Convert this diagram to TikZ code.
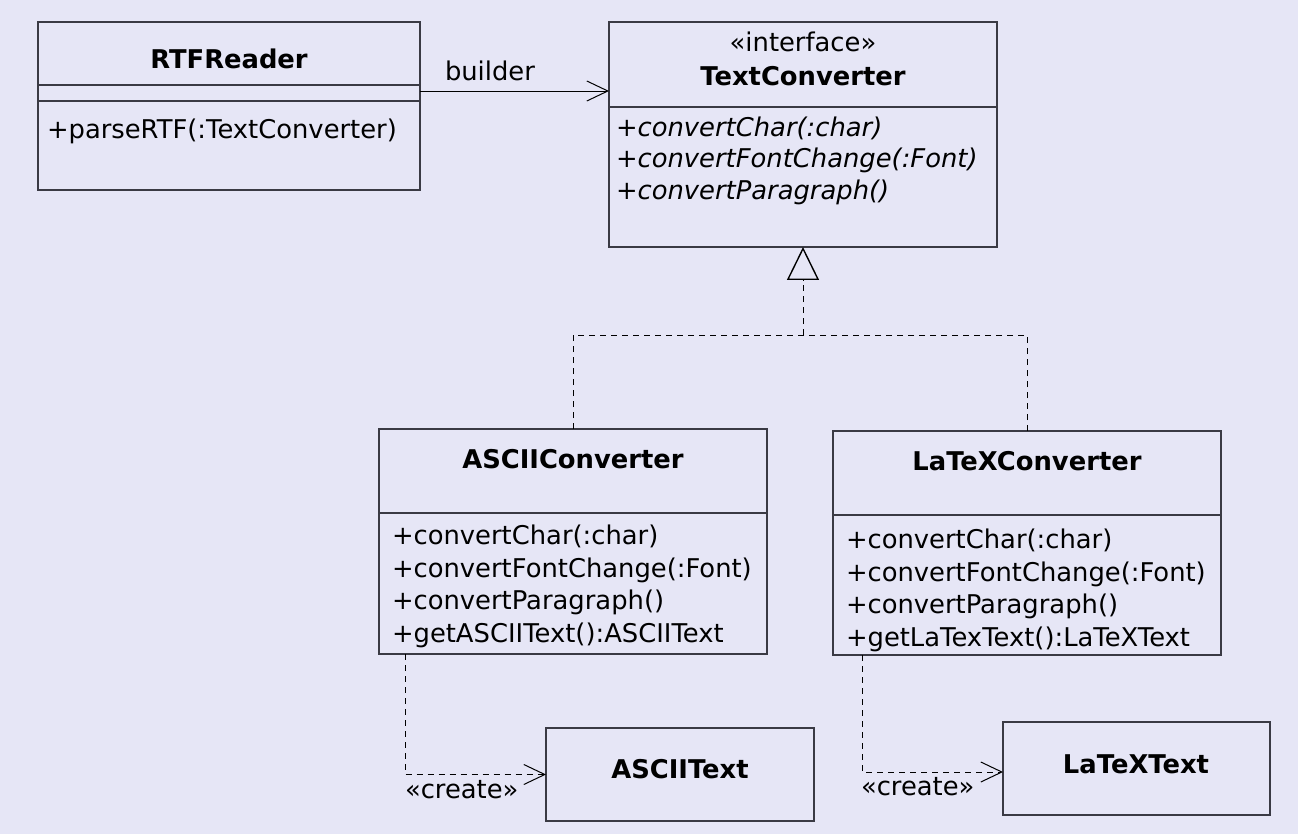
\documentclass[tikz,border=0pt]{standalone}
\usepackage{fontspec}
\setmainfont{DejaVu Sans}
\usetikzlibrary{arrows.meta,calc}
\definecolor{bgcol}{HTML}{E6E6F6}
\definecolor{edgecol}{HTML}{3A3A44}
\begin{document}
\begin{tikzpicture}[x=1pt,y=-1pt,
  every node/.style={inner sep=0pt,outer sep=0pt},
  umlbox/.style={draw=edgecol,line width=1.2pt,rectangle,anchor=north west},
  txt/.style={font=\fontsize{25.8}{30}\selectfont,anchor=base west,text=black},
  ttl/.style={font=\fontsize{25.8}{30}\selectfont\bfseries,anchor=base,text=black},
  ops/.style={font=\fontsize{25.8}{30}\selectfont\itshape,anchor=base west,text=black},
  divider/.style={draw=edgecol,line width=1.2pt},
  assoc/.style={draw=black,line width=0.9pt,-{Straight Barb[length=21pt,width=20pt,line width=1pt]}},
  realize/.style={draw=black,line width=0.9pt,dash pattern=on 6pt off 5pt},
  gentip/.style={-{Triangle[open,length=33pt,width=32pt,line width=1.4pt]}},
  dep/.style={draw=black,line width=0.9pt,dash pattern=on 6pt off 5pt,-{Straight Barb[length=21pt,width=20pt,line width=1pt]}}
]
\useasboundingbox (0,0) rectangle (1298,834);
\fill[bgcol] (0,0) rectangle (1298,834);

% class boxes
\node[umlbox,minimum width=382pt,minimum height=168pt] (rtf) at (38,22) {};
\node[umlbox,minimum width=388pt,minimum height=225pt] (tc) at (609,22) {};
\node[umlbox,minimum width=388pt,minimum height=225pt] (asc) at (379,429) {};
\node[umlbox,minimum width=388pt,minimum height=224pt] (lat) at (833,431) {};
\node[umlbox,minimum width=268pt,minimum height=93pt] (atext) at (546,728) {};
\node[umlbox,minimum width=267pt,minimum height=93pt] (ltext) at (1003,722) {};

% compartment lines
\draw[divider] (rtf.west |- 0,85) -- (rtf.east |- 0,85);
\draw[divider] (rtf.west |- 0,101) -- (rtf.east |- 0,101);
\draw[divider] (tc.west |- 0,107) -- (tc.east |- 0,107);
\draw[divider] (asc.west |- 0,513) -- (asc.east |- 0,513);
\draw[divider] (lat.west |- 0,515) -- (lat.east |- 0,515);

% RTFReader
\node[ttl] (rtfname) at (229,69) {RTFReader};
\node[txt] (rtfop) at (47,139) {+parseRTF(:TextConverter)};

% TextConverter
\node[txt,anchor=base] (tcst) at (803,52) {«interface»};
\node[ttl] (tcname) at (803,86) {TextConverter};
\node[ops] (tcop1) at (616,137) {+convertChar(:char)};
\node[ops] (tcop2) at (616,168) {+convertFontChange(:Font)};
\node[ops] (tcop3) at (616,200) {+convertParagraph()};

% ASCIIConverter
\node[ttl] (ascname) at (573,468) {ASCIIConverter};
\node[txt] (ascop1) at (392,544) {+convertChar(:char)};
\node[txt] (ascop2) at (392,577) {+convertFontChange(:Font)};
\node[txt] (ascop3) at (392,609) {+convertParagraph()};
\node[txt] (ascop4) at (392,642) {+getASCIIText():ASCIIText};

% LaTeXConverter
\node[ttl] (latname) at (1027,470) {LaTeXConverter};
\node[txt] (latop1) at (846,548) {+convertChar(:char)};
\node[txt] (latop2) at (846,581) {+convertFontChange(:Font)};
\node[txt] (latop3) at (846,613) {+convertParagraph()};
\node[txt] (latop4) at (846,646) {+getLaTexText():LaTeXText};

% product classes
\node[ttl] (atextname) at (680,778) {ASCIIText};
\node[ttl] (ltextname) at (1136,773) {LaTeXText};

% association
\draw[assoc] (rtf.east |- 0,91) -- (tc.west |- 0,91);
\node[txt] (builderlbl) at (445,81) {builder};

% realization
\coordinate (junction) at (tc.south |- 0,335);
\draw[realize] (asc.north) |- (junction);
\draw[realize] (lat.north) |- (junction);
\draw[realize,gentip] (junction) -- (tc.south);

% create dependencies
\draw[dep] ($(asc.south west)+(26,0)$) |- (atext.west);
\node[txt] (createa) at (405,798) {«create»};
\draw[dep] ($(lat.south west)+(29,0)$) |- (ltext.west |- 0,772);
\node[txt] (createl) at (861,795) {«create»};
\end{tikzpicture}
\end{document}
